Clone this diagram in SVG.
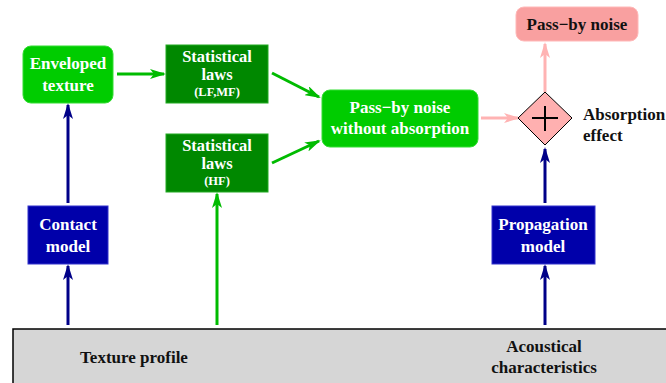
<svg xmlns="http://www.w3.org/2000/svg" width="666" height="383" viewBox="0 0 666 383">
<style>
text{font-family:'Liberation Serif','DejaVu Serif',serif;font-weight:700;text-anchor:middle}
.w{fill:#ffffff;font-size:17px}
.m{fill:#ffffff;font-size:16.5px}
.s{fill:#ffffff;font-size:12.5px}
.k{fill:#111111;font-size:17px}
.lg{fill:#00cc00;stroke:#33dd33;stroke-width:1}
.dg{fill:#008800;stroke:#22aa22;stroke-width:1}
.bl{fill:#0000aa;stroke:#3333cc;stroke-width:1}
.cg{stroke:#00bb00;stroke-width:3;fill:none}
.cb{stroke:#000088;stroke-width:3;fill:none}
.cp{stroke:#ffb3b3;stroke-width:3;fill:none}
</style>
<defs>
<marker id="ag" markerWidth="16" markerHeight="10" refX="14" refY="5" orient="auto" markerUnits="userSpaceOnUse"><path d="M0,0 L16,5 L0,10 L4,5 Z" fill="#00bb00"/></marker>
<marker id="ab" markerWidth="16" markerHeight="10" refX="14" refY="5" orient="auto" markerUnits="userSpaceOnUse"><path d="M0,0 L16,5 L0,10 L4,5 Z" fill="#000088"/></marker>
<marker id="ap" markerWidth="16" markerHeight="10" refX="14" refY="5" orient="auto" markerUnits="userSpaceOnUse"><path d="M0,0 L16,5 L0,10 L4,5 Z" fill="#ffb3b3"/></marker>
</defs>
<g id="base">
<rect x="13" y="329" width="670" height="70" fill="#d6d6d6" stroke="#000000" stroke-width="1.5"/>
<text class="k" x="134" y="363" font-family="Liberation Serif">Texture profile</text>
<text class="k" x="544" y="352" font-family="Liberation Serif">Acoustical</text>
<text class="k" x="544" y="373" font-family="Liberation Serif">characteristics</text>
</g>
<g id="connectors">
<line class="cg" x1="117" y1="74" x2="164" y2="74" marker-end="url(#ag)"/>
<line class="cg" x1="272" y1="73" x2="319" y2="97" marker-end="url(#ag)"/>
<line class="cg" x1="272" y1="163" x2="319" y2="141" marker-end="url(#ag)"/>
<line class="cg" x1="217" y1="325" x2="217" y2="194" marker-end="url(#ag)"/>
<line class="cb" x1="68" y1="203" x2="68" y2="105" marker-end="url(#ab)"/>
<line class="cb" x1="68" y1="325" x2="68" y2="266" marker-end="url(#ab)"/>
<line class="cb" x1="545" y1="203" x2="545" y2="149" marker-end="url(#ab)"/>
<line class="cb" x1="545" y1="325" x2="545" y2="266" marker-end="url(#ab)"/>
<line class="cp" x1="481" y1="118" x2="518" y2="118" marker-end="url(#ap)"/>
<line class="cp" x1="545" y1="92" x2="545" y2="44" marker-end="url(#ap)"/>
</g>
<g id="enveloped">
<rect class="lg" x="23" y="46" width="90" height="57" rx="8"/>
<text class="w" x="68" y="69" font-family="Liberation Serif">Enveloped</text>
<text class="w" x="68" y="91" font-family="Liberation Serif">texture</text>
</g>
<g id="stat-lfmf">
<rect class="dg" x="166" y="45" width="102" height="58"/>
<text class="m" x="217" y="62" font-family="Liberation Serif">Statistical</text>
<text class="m" x="217" y="80" font-family="Liberation Serif">laws</text>
<text class="s" x="217" y="96" font-family="Liberation Serif">(LF,MF)</text>
</g>
<g id="stat-hf">
<rect class="dg" x="166" y="134" width="102" height="58"/>
<text class="m" x="217" y="151" font-family="Liberation Serif">Statistical</text>
<text class="m" x="217" y="169" font-family="Liberation Serif">laws</text>
<text class="s" x="217" y="185" font-family="Liberation Serif">(HF)</text>
</g>
<g id="passby-wo">
<rect class="lg" x="322" y="90" width="156" height="57" rx="8"/>
<text class="w" x="400" y="113" font-family="Liberation Serif">Pass−by noise</text>
<text class="w" x="400" y="134" font-family="Liberation Serif">without absorption</text>
</g>
<g id="sum">
<path d="M545,92 L572,118 L545,145 L518,118 Z" fill="#ffb0b0" stroke="#000000" stroke-width="1"/>
<path d="M545,106 V131 M532,118 H558" stroke="#000000" stroke-width="2"/>
<text class="k" x="583" y="120" font-family="Liberation Serif" style="text-anchor:start">Absorption</text>
<text class="k" x="583" y="141" font-family="Liberation Serif" style="text-anchor:start">effect</text>
</g>
<g id="passby">
<rect x="516" y="7" width="122" height="34" rx="8" fill="#f9a0a0" stroke="#ffb8b8"/>
<text class="k" x="577" y="30" font-family="Liberation Serif">Pass−by noise</text>
</g>
<g id="contact">
<rect class="bl" x="28" y="206" width="80" height="58"/>
<text class="w" x="68" y="230" font-family="Liberation Serif">Contact</text>
<text class="w" x="68" y="252" font-family="Liberation Serif">model</text>
</g>
<g id="propagation">
<rect class="bl" x="492" y="206" width="103" height="58"/>
<text class="w" x="543" y="230" font-family="Liberation Serif">Propagation</text>
<text class="w" x="543" y="252" font-family="Liberation Serif">model</text>
</g>
</svg>
